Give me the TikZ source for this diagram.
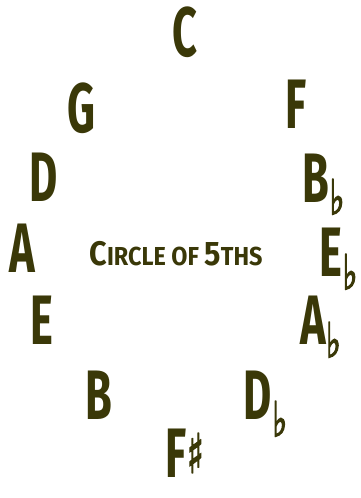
\documentclass[tikz,border=0pt]{standalone}
\usepackage{fontspec}
\setmainfont{Fira Sans}
\newfontfamily\symfont{DejaVu Sans}
\usetikzlibrary{positioning}
\definecolor{ink}{RGB}{58,56,8}
% thicker strokes for the accidentals
\newcommand{\heavy}[1]{\special{pdf:literal direct 2 Tr 1.6 w}#1\special{pdf:literal direct 0 Tr}}
\tikzset{
  key/.style={text=ink, font=\fontsize{70}{70}\selectfont\bfseries, inner sep=0pt, xscale=0.62},
  flat/.style={text=ink, font=\fontsize{48}{48}\selectfont\symfont, inner sep=0pt, xscale=0.65},
  title/.style={text=ink, font=\fontsize{34}{34}\selectfont\bfseries, inner sep=0pt, xscale=0.9}
}
\begin{document}
\begin{tikzpicture}[x=1pt, y=-1pt]
    \useasboundingbox (0,0) rectangle (360,498);

    % the twelve keys, clockwise from the top
    \node[key] (keyC)  at (185,32)  {C};
    \node[key] (keyF)  at (296,104) {F};
    \node[key] (keyBb) at (316,178) {B};
    \node[flat, anchor=north west] (flatBb) at ([yshift=-1pt]keyBb.east) {\heavy{♭}};
    \node[key] (keyEb) at (331,252) {E};
    \node[flat, anchor=north west] (flatEb) at ([yshift=-2pt]keyEb.east) {\heavy{♭}};
    \node[key] (keyAb) at (313,320) {A};
    \node[flat, anchor=north west] (flatAb) at ([yshift=-2pt]keyAb.east) {\heavy{♭}};
    \node[key] (keyDb) at (258,395) {D};
    \node[flat, anchor=north west] (flatDb) at ([yshift=-6pt]keyDb.east) {\heavy{♭}};
    \node[key] (keyFs) at (176,453) {F};
    \node[flat, anchor=west, font=\fontsize{54}{54}\selectfont\symfont] (sharpFs) at (keyFs.east) {\heavy{♯}};
    \node[key] (keyB)  at (99,395)  {B};
    \node[key] (keyE)  at (42,320)  {E};
    \node[key] (keyA)  at (22,248)  {A};
    \node[key] (keyD)  at (44,177)  {D};
    \node[key] (keyG)  at (81,108)  {G};

    % label in the middle
    \node[title] (circle) at (176,254) {C{\fontsize{26}{26}\selectfont IRCLE OF }5{\fontsize{26}{26}\selectfont THS}};
\end{tikzpicture}
\end{document}
